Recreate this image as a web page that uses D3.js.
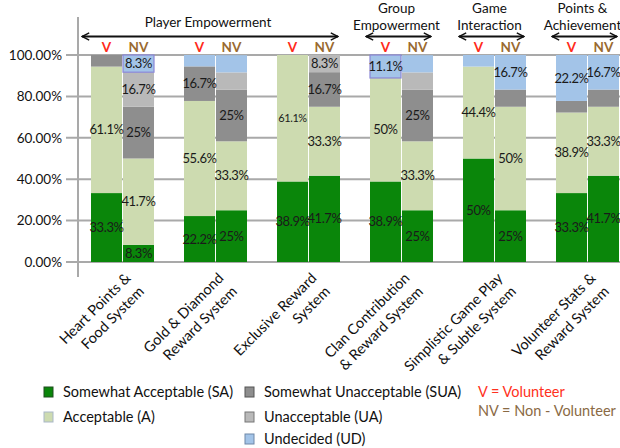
<!DOCTYPE html>
<html>
<head>
<meta charset="utf-8">
<script src="https://cdn.jsdelivr.net/npm/d3@7/dist/d3.min.js"></script>
<style>
  html, body { margin: 0; padding: 0; background: #fff; }
  svg { display: block; font-family: Lato, "Open Sans", sans-serif; }
</style>
</head>
<body>
<svg id="chart" width="620" height="448"></svg>
<script>
// ---------- data ----------
const categories = [
  ["Heart Points &", "Food System"],
  ["Gold & Diamond", "Reward System"],
  ["Exclusive Reward", "System"],
  ["Clan Contribution", "& Reward System"],
  ["Simplistic Game Play", "& Subtle System"],
  ["Volunteer Stats &", "Reward System"]
];
const groups = ["V", "NV"];
const seriesKeys = ["SA", "A", "SUA", "UA", "UD"];
const seriesNames = ["Somewhat Acceptable (SA)", "Acceptable (A)", "Somewhat Unacceptable (SUA)", "Unacceptable (UA)", "Undecided (UD)"];

// Volunteer (V)
const SA_V  = [33.3, 22.2, 38.9, 38.9, 50.0, 33.3];
const A_V   = [61.1, 55.6, 61.1, 50.0, 44.4, 38.9];
const SUA_V = [5.6, 16.7, 0, 0, 0, 5.6];
const UA_V  = [0, 0, 0, 0, 0, 0];
const UD_V  = [0, 5.6, 0, 11.1, 5.6, 22.2];
// Non-Volunteer (NV)
const SA_NV  = [8.3, 25.0, 41.7, 25.0, 25.0, 41.7];
const A_NV   = [41.7, 33.3, 33.3, 33.3, 50.0, 33.3];
const SUA_NV = [25.0, 25.0, 16.7, 25.0, 8.3, 8.3];
const UA_NV  = [16.7, 8.3, 8.3, 8.3, 0, 0];
const UD_NV  = [8.3, 8.3, 0, 8.3, 16.7, 16.7];

// labels below the 10% threshold that are still printed: [category, group, series]
const extraLabels = [[0, "NV", "SA"], [0, "NV", "UD"], [2, "NV", "UA"]];
const smallLabels = [[2, "V", "A"]];
const boxedSegments = [[0, "NV", "UD"], [3, "V", "UD"]];

const yTicks = [0, 20, 40, 60, 80, 100];

const headerLines = [["Player Empowerment"], ["Group", "Empowerment"], ["Game", "Interaction"], ["Points &", "Achievement"]];
const headerFrom = [0, 3, 4, 5];
const headerTo   = [2, 3, 4, 5];

const legendNotes = ["V = Volunteer", "NV = Non - Volunteer"];

// ---------- styles ----------
const colors = { SA: "#0a860a", A: "#cddbb0", SUA: "#8e8e8e", UA: "#b9b9b9", UD: "#a3c4e8" };
const strokeColors = { SA: "#1f4d1f", A: "#a9b7c8", SUA: "#555", UA: "#777", UD: "#6f88a8" };
const groupColors = { V: "#ff2a1a", NV: "#9a6a30" };

const valueTable = {
  V:  { SA: SA_V, A: A_V, SUA: SUA_V, UA: UA_V, UD: UD_V },
  NV: { SA: SA_NV, A: A_NV, SUA: SUA_NV, UA: UA_NV, UD: UD_NV }
};

// ---------- scales ----------
const svg = d3.select("#chart");
svg.append("rect").attr("width", 620).attr("height", 448).attr("fill", "#fff");

const x = d3.scaleBand().domain(d3.range(categories.length)).range([76, 634])
  .paddingInner(0.3226).paddingOuter(0.1613);
const xSub = d3.scaleBand().domain(groups).range([0, x.bandwidth()]).paddingInner(0.03);
const y = d3.scaleLinear().domain([0, 100]).range([262, 55]);

// gridlines
svg.append("g").selectAll("line").data(yTicks).join("line")
  .attr("x1", 66).attr("x2", 620)
  .attr("y1", d => y(d)).attr("y2", d => y(d))
  .attr("stroke", "#a9a9a9").attr("stroke-width", 2);

// y axis labels
const yAxis = svg.append("g").attr("transform", "translate(78,0)")
  .call(d3.axisLeft(y).tickValues(yTicks).tickFormat(d => d.toFixed(2) + "%").tickSize(0).tickPadding(16));
yAxis.select(".domain").remove();
yAxis.selectAll("text").attr("font-size", 13.5).attr("fill", "#111").attr("font-family", "Lato, sans-serif");

// y axis line
svg.append("line").attr("x1", 78).attr("x2", 78).attr("y1", 17).attr("y2", 277)
  .attr("stroke", "#a9a9a9").attr("stroke-width", 2);

// ---------- bars ----------
const segs = [];
categories.forEach((c, i) => {
  groups.forEach(g => {
    let cum = 0;
    seriesKeys.forEach(k => {
      const v = valueTable[g][k][i];
      segs.push({ i, g, k, v, y0: cum, y1: cum + v });
      cum += v;
    });
  });
});
const has = (list, s) => list.some(e => e[0] === s.i && e[1] === s.g && e[2] === s.k);

const barG = svg.append("g");
barG.selectAll("rect").data(segs.filter(s => s.v > 0)).join("rect")
  .attr("x", s => x(s.i) + xSub(s.g))
  .attr("width", xSub.bandwidth())
  .attr("y", s => y(Math.min(s.y1, 100)))
  .attr("height", s => y(s.y0) - y(Math.min(s.y1, 100)))
  .attr("fill", s => colors[s.k])
  .attr("stroke", s => has(boxedSegments, s) ? "#8a86d6" : "none")
  .attr("stroke-width", 1.2);

// segment labels
barG.selectAll("text").data(segs.filter(s => s.v >= 10 || has(extraLabels, s))).join("text")
  .attr("x", s => x(s.i) + xSub(s.g) + xSub.bandwidth() / 2)
  .attr("y", s => y((s.y0 + Math.min(s.y1, 100)) / 2))
  .attr("dy", "0.35em")
  .attr("text-anchor", "middle")
  .attr("font-size", s => has(smallLabels, s) ? 11 : 13)
  .attr("letter-spacing", -0.4)
  .attr("fill", "#1a1a1a")
  .text(s => (Math.round(s.v * 10) / 10) + "%");

// V / NV labels
categories.forEach((c, i) => {
  groups.forEach(g => {
    svg.append("text")
      .attr("x", x(i) + xSub(g) + xSub.bandwidth() / 2)
      .attr("y", 52)
      .attr("text-anchor", "middle")
      .attr("font-size", 13.5).attr("font-weight", "bold")
      .attr("fill", groupColors[g])
      .text(g);
  });
});

// ---------- category labels ----------
categories.forEach((lines, i) => {
  const t = svg.append("text")
    .attr("transform", `translate(${x(i) + x.bandwidth() / 2 + 9},${279}) rotate(-45)`)
    .attr("text-anchor", "end").attr("font-size", 14.5).attr("fill", "#111");
  lines.forEach((ln, j) => {
    t.append("tspan").attr("x", 0).attr("y", j * 19).text(ln);
  });
});

// ---------- header annotations ----------
const defs = svg.append("defs");
defs.append("marker").attr("id", "ah").attr("viewBox", "0 0 10 10")
  .attr("refX", 9).attr("refY", 5).attr("markerWidth", 9).attr("markerHeight", 9)
  .attr("markerUnits", "userSpaceOnUse").attr("orient", "auto-start-reverse")
  .append("path").attr("d", "M1,1 L9,5 L1,9").attr("fill", "none").attr("stroke", "#111").attr("stroke-width", 1.6);

headerLines.forEach((lines, h) => {
  const x1 = x(headerFrom[h]) + (h === 0 ? -9 : -4);
  const x2 = x(headerTo[h]) + x.bandwidth() - 2;
  svg.append("line").attr("x1", x1).attr("x2", x2).attr("y1", 36.5).attr("y2", 36.5)
    .attr("stroke", "#111").attr("stroke-width", 2)
    .attr("marker-start", "url(#ah)").attr("marker-end", "url(#ah)");
  const cx = (x1 + x2) / 2 - 2;
  lines.forEach((ln, j) => {
    svg.append("text").attr("x", cx)
      .attr("y", lines.length === 1 ? 27 : 13 + j * 17)
      .attr("text-anchor", "middle").attr("font-size", 13.5).attr("fill", "#111")
      .text(ln);
  });
});

// ---------- legend ----------
const legendCol = [0, 0, 1, 1, 1];
const legendRow = [0, 1, 0, 1, 2];
const colX = [44, 245];
const rowY = [392, 417, 439];
seriesKeys.forEach((k, idx) => {
  const lx = colX[legendCol[idx]], ly = rowY[legendRow[idx]];
  svg.append("rect").attr("x", lx).attr("y", ly - 5).attr("width", 9).attr("height", 10)
    .attr("fill", colors[k]).attr("stroke", strokeColors[k]).attr("stroke-width", 1);
  svg.append("text").attr("x", lx + 19).attr("y", ly).attr("dy", "0.35em")
    .attr("font-size", 14.5).attr("fill", "#111").text(seriesNames[idx]);
});
legendNotes.forEach((n, j) => {
  svg.append("text").attr("x", 478).attr("y", 392 + j * 19).attr("dy", "0.35em")
    .attr("font-size", 14.5).attr("fill", j === 0 ? "#ff3020" : "#8a6a44").text(n);
});
</script>
</body>
</html>
